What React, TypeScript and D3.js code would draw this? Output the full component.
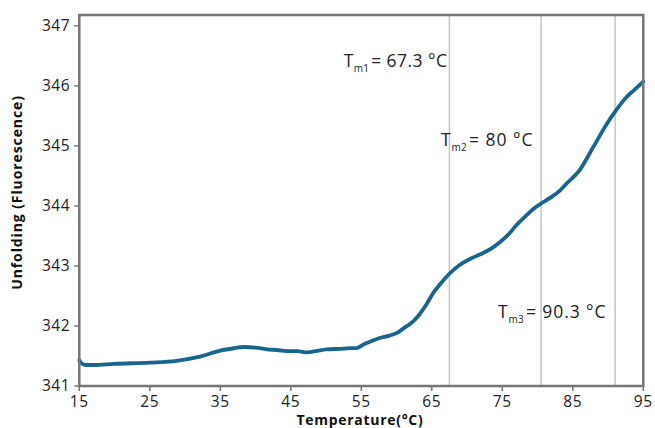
import React from "react";
import * as d3 from "d3";

const temps = [15, 15.3, 16, 17, 20, 25, 28.8, 32.1, 35, 37, 38.3, 40, 41.6, 43, 44.9, 46, 47.3, 48.5, 50.1, 52, 53.4, 54.3, 55.3, 56.3, 57.4, 59, 60, 61, 62.4, 63.3, 64.3, 65.2, 66.2, 67.5, 69, 70.5, 71.8, 73.3, 74.7, 76, 77, 78.3, 79.4, 80.5, 82, 83.2, 84.1, 86, 87.9, 89.8, 91, 92.6, 93.7, 95];
const fluor = [341.43, 341.38, 341.35, 341.35, 341.37, 341.39, 341.42, 341.49, 341.59, 341.63, 341.65, 341.64, 341.61, 341.6, 341.58, 341.58, 341.56, 341.58, 341.61, 341.62, 341.63, 341.63, 341.69, 341.74, 341.79, 341.84, 341.88, 341.96, 342.08, 342.2, 342.37, 342.55, 342.7, 342.87, 343.02, 343.12, 343.19, 343.28, 343.4, 343.54, 343.68, 343.83, 343.95, 344.04, 344.15, 344.26, 344.37, 344.6, 344.98, 345.36, 345.57, 345.81, 345.93, 346.07];

const xTicks = [15, 25, 35, 45, 55, 65, 75, 85, 95];
const yTicks = [341, 342, 343, 344, 345, 346, 347];

const tmLines = [67.5, 80.5, 91.0];
const tmSubs = ["m1", "m2", "m3"];
const tmTexts = ["= 67.3 °C", "= 80 °C", "= 90.3 °C"];
const tmLabelX = [52.5, 66.3, 74.4];
const tmLabelY = [346.32, 344.99, 342.13];
const tmSpacing = [0.45, 1.0, 0.9];

export default function App() {
  const W = 655, H = 428;
  const left = 79.3, right = 643.3, top = 15, bottom = 386;
  const x = d3.scaleLinear().domain([15, 95]).range([left, right]);
  const y = d3.scaleLinear().domain([341, 347.18]).range([bottom, top]);
  const line = d3
    .line<number>()
    .x((_, i) => x(temps[i]))
    .y((d) => y(d))
    .curve(d3.curveMonotoneX);
  const axisColor = "#767676";
  const font = "'Open Sans', sans-serif";
  return (
    <svg width={W} height={H} style={{ position: "absolute", left: 0, top: 0, background: "#fff" }} fontFamily={font}>
      {tmLines.map((t, i) => (
        <line key={"tm" + i} x1={x(t)} x2={x(t)} y1={top} y2={bottom} stroke="#c4c4c4" strokeWidth={1.5} />
      ))}
      <path d={line(fluor) || ""} fill="none" stroke="#19658e" strokeWidth={3.8} strokeLinejoin="round" strokeLinecap="round" />
      <rect x={left} y={top} width={right - left} height={bottom - top} fill="none" stroke={axisColor} strokeWidth={2.5} />
      {yTicks.map((v) => (
        <g key={"y" + v}>
          <line x1={left - 5} x2={left} y1={y(v)} y2={y(v)} stroke={axisColor} strokeWidth={1.5} />
          <text x={left - 9} y={y(v)} dy="0.35em" textAnchor="end" fontSize={15.5} fill="#222" letterSpacing={0.6}>
            {v}
          </text>
        </g>
      ))}
      {xTicks.map((v) => (
        <g key={"x" + v}>
          <line x1={x(v)} x2={x(v)} y1={bottom} y2={bottom + 5} stroke={axisColor} strokeWidth={1.5} />
          <text x={x(v)} y={bottom + 21} textAnchor="middle" fontSize={15.5} fill="#222" letterSpacing={0.6}>
            {v}
          </text>
        </g>
      ))}
      {tmTexts.map((s, i) => (
        <text key={"lab" + i} x={x(tmLabelX[i])} y={y(tmLabelY[i])} fontSize={17.5} fill="#222" letterSpacing={tmSpacing[i]}>
          <tspan>T</tspan>
          <tspan fontSize={10} dy={5} letterSpacing={0.2}>{tmSubs[i]}</tspan>
          <tspan dy={-5} dx={2}>{s}</tspan>
        </text>
      ))}
      <text x={360} y={425} textAnchor="middle" fontSize={14} fontWeight="bold" fill="#111" letterSpacing={0.7}>
        Temperature(°C)
      </text>
      <text transform={`translate(22,${(top + bottom) / 2 - 8}) rotate(-90)`} textAnchor="middle" fontSize={14} fontWeight="bold" fill="#111" letterSpacing={0.9}>
        Unfolding (Fluorescence)
      </text>
    </svg>
  );
}
